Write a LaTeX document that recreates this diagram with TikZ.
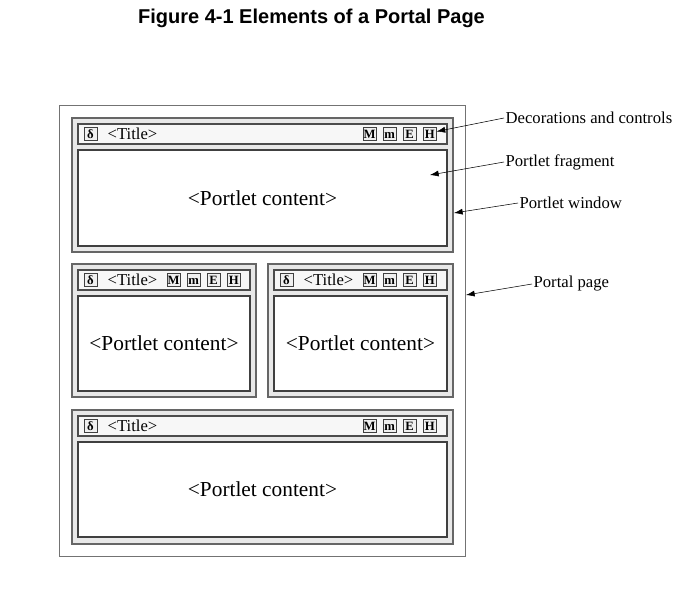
\documentclass[tikz,border=0pt]{standalone}
\usepackage{fontspec}
\setmainfont{Liberation Serif}
\newfontfamily\captionfont{Liberation Sans}
\usetikzlibrary{positioning,fit,arrows.meta}

\begin{document}
\begin{tikzpicture}
        [
    x=0.75pt, y=-0.75pt,
    page/.style={draw=black!55, line width=0.7pt},
    win/.style={draw=black!60, fill=black!9, line width=1.2pt, inner sep=0pt},
    bar/.style={draw=black!70, fill=black!3, line width=0.9pt, inner sep=0pt},
    body/.style={draw=black!75, fill=white, line width=0.9pt, inner sep=0pt},
    btn/.style={draw=black!75, fill=black!6, line width=0.6pt, minimum size=9.75pt, inner sep=0pt, text height=6.4pt, text depth=0pt, font=\fontsize{9.5}{10}\selectfont\bfseries},
    ttl/.style={inner sep=0pt, font=\fontsize{12.5}{14}\selectfont},
    content/.style={font=\fontsize{16}{18}\selectfont},
    lbl/.style={anchor=west, inner sep=1pt, font=\fontsize{12.5}{14}\selectfont},
    >={Latex[length=6.5pt,width=4.5pt]}
    ]
    \path[use as bounding box, fill=white] (0,0) rectangle (694,601);

    % Caption
    \node[font={\captionfont\bfseries\fontsize{15}{17}\selectfont}] (cap) at (311.5,18) {Figure 4-1 Elements of a Portal Page};

    % Portal page
    \node[page, inner sep=0pt, fit={(59,105) (465,556)}] (pg) {};

    % Portlet window 1 (top)
    \node[win, fit={(72,118) (453,252)}] (w1) {};
    \node[bar, fit={(78,124) (447,144)}] (r1) {};
    \node[body, fit={(78,150) (447,246)}] (b1) {};
    \node[btn] (d1) at (90.5,134) {δ};
    \node[ttl, right=7.5pt of d1] (t1) {<Title>};
    \node[btn] (mx1) at (369.5,134) {M};
    \node[btn, right=4.7pt of mx1] (mn1) {m};
    \node[btn, right=4.7pt of mn1] (e1) {E};
    \node[btn, right=4.7pt of e1] (h1) {H};
    \node[content] (c1) at (b1.center) {<Portlet content>};

    % Portlet window 2 (middle left)
    \node[win, fit={(72,264) (256,397)}] (w2) {};
    \node[bar, fit={(78,270) (250,290)}] (r2) {};
    \node[body, fit={(78,296) (250,391)}] (b2) {};
    \node[btn] (d2) at (90.5,280) {δ};
    \node[ttl, right=7.5pt of d2] (t2) {<Title>};
    \node[btn] (mx2) at (173.5,280) {M};
    \node[btn, right=4.7pt of mx2] (mn2) {m};
    \node[btn, right=4.7pt of mn2] (e2) {E};
    \node[btn, right=4.7pt of e2] (h2) {H};
    \node[content] (c2) at (b2.center) {<Portlet content>};

    % Portlet window 3 (middle right)
    \node[win, fit={(268,264) (453,397)}] (w3) {};
    \node[bar, fit={(274,270) (447,290)}] (r3) {};
    \node[body, fit={(274,296) (447,391)}] (b3) {};
    \node[btn] (d3) at (286.5,280) {δ};
    \node[ttl, right=7.5pt of d3] (t3) {<Title>};
    \node[btn] (mx3) at (369.5,280) {M};
    \node[btn, right=4.7pt of mx3] (mn3) {m};
    \node[btn, right=4.7pt of mn3] (e3) {E};
    \node[btn, right=4.7pt of e3] (h3) {H};
    \node[content] (c3) at (b3.center) {<Portlet content>};

    % Portlet window 4 (bottom)
    \node[win, fit={(72,410) (453,544)}] (w4) {};
    \node[bar, fit={(78,416) (447,436)}] (r4) {};
    \node[body, fit={(78,442) (447,537)}] (b4) {};
    \node[btn] (d4) at (90.5,426) {δ};
    \node[ttl, right=7.5pt of d4] (t4) {<Title>};
    \node[btn] (mx4) at (369.5,426) {M};
    \node[btn, right=4.7pt of mx4] (mn4) {m};
    \node[btn, right=4.7pt of mn4] (e4) {E};
    \node[btn, right=4.7pt of e4] (h4) {H};
    \node[content] (c4) at (b4.center) {<Portlet content>};

    % Callouts
    \node[lbl] (ldec) at (504,118) {Decorations and controls};
    \node[lbl] (lfrag) at (504,162) {Portlet fragment};
    \node[lbl] (lwin) at (518,203) {Portlet window};
    \node[lbl] (lpage) at (532,284) {Portal page};
    \coordinate (pfrag) at (430,175);
    \coordinate (pwin) at (454,213);
    \coordinate (ppage) at (466,295);
    \draw [->] (ldec.west) -- (h1.20);
    \draw [->] (lfrag.west) -- (pfrag);
    \draw [->] (lwin.west) -- (pwin);
    \draw [->] (lpage.west) -- (ppage);
\end{tikzpicture}
\end{document}
